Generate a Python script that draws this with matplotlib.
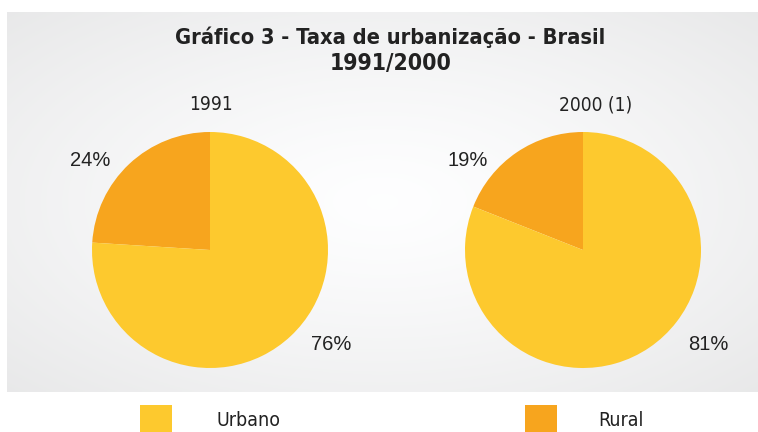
import numpy as np
import matplotlib.pyplot as plt
from matplotlib.patches import Rectangle

# Data
categories = ['Rural', 'Urbano']
values_1991 = [24, 76]
values_2000 = [19, 81]
pie_titles = ['1991', '2000 (1)']
colors = ['#F7A51E', '#FDC92E']

narrow_font = ['DejaVu Sans', 'Liberation Sans']
text_font = ['Liberation Sans', 'DejaVu Sans']

fig = plt.figure(figsize=(7.58, 4.32), dpi=100)
W, H = 758, 432

def fx(px):
    return px / W

def fy(py):
    return 1 - py / H

# Background panel with soft radial gradient
bg = fig.add_axes([fx(7), fy(392), fx(758) - fx(7), fy(12) - fy(392)])
xx, yy = np.meshgrid(np.linspace(-1, 1, 300), np.linspace(-1, 1, 160))
r = np.sqrt(xx**2 + yy**2) / np.sqrt(2)
shade = 1.0 - 0.085 * r**1.3
img = np.dstack([shade * 0.996, shade * 0.997, shade, np.ones_like(shade)])
img = np.clip(img, 0, 1)
bg.imshow(img, aspect='auto', extent=[0, 1, 0, 1])
bg.set_axis_off()

# Title
fig.text(fx(390), fy(37), 'Gráfico 3 - Taxa de urbanização - Brasil', ha='center', va='center',
         fontsize=15.7, fontweight='bold', family=narrow_font, fontstretch='condensed', color='#222222')
fig.text(fx(391), fy(63), '1991/2000', ha='center', va='center',
         fontsize=16.5, fontweight='bold', family=narrow_font, fontstretch='condensed', color='#222222')

# Pies
radius = 118
centers = [(210, 250), (583, 250)]
all_values = [values_1991, values_2000]
label_pos = [
    [(90, 161), (331, 345)],
    [(468, 161), (708, 345)],
]
title_pos = [(211, 105), (596, 105)]

for (cx, cy), vals, lpos, tpos, ttl in zip(centers, all_values, label_pos, title_pos, pie_titles):
    ax = fig.add_axes([fx(cx - radius), fy(cy + radius), 2 * radius / W, 2 * radius / H])
    ax.pie(vals, colors=colors, startangle=90, counterclock=True,
           wedgeprops=dict(linewidth=0))
    ax.set_aspect('equal')
    ax.set_xlim(-1, 1)
    ax.set_ylim(-1, 1)
    for v, (lx, ly) in zip(vals, lpos):
        fig.text(fx(lx), fy(ly), f'{v}%', ha='center', va='center',
                 fontsize=14.5, family=text_font, color='#222222')
    fig.text(fx(tpos[0]), fy(tpos[1]), ttl, ha='center', va='center',
             fontsize=13.7, family=narrow_font, fontstretch='condensed', color='#222222')

# Legend
legend_items = [('Urbano', colors[1], 140, 217), ('Rural', colors[0], 525, 598)]
for name, col, sx, tx in legend_items:
    fig.patches.append(Rectangle((fx(sx), fy(432)), 32 / W, 27 / H, transform=fig.transFigure,
                                 facecolor=col, edgecolor='none'))
    fig.text(fx(tx), fy(421), name, ha='left', va='center',
             fontsize=14, family=narrow_font, fontstretch='condensed', color='#222222')

plt.savefig('out.png', dpi=100)
